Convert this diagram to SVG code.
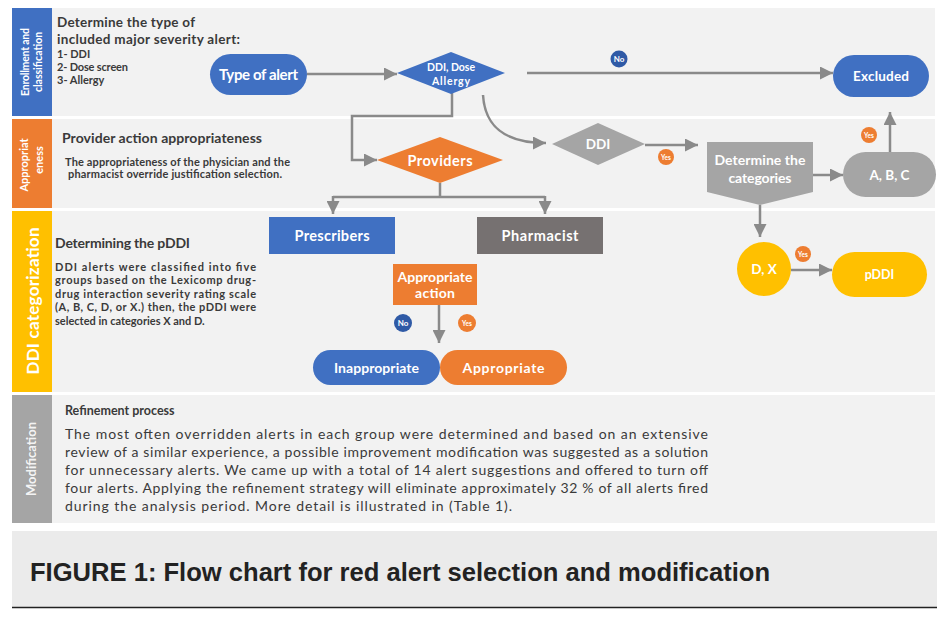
<svg xmlns="http://www.w3.org/2000/svg" width="937" height="626" viewBox="0 0 937 626">
  <defs>
    <marker id="ah" viewBox="0 0 10 10" refX="10" refY="5" markerWidth="13" markerHeight="13" markerUnits="userSpaceOnUse" orient="auto">
      <path d="M0,0 L10,5 L0,10 z" fill="#8a8a8a"/>
    </marker>
    <style>
      .band { fill: #f2f2f2; }
      .conn { fill: none; stroke: #8a8a8a; stroke-width: 2.5; }
      .arr { marker-end: url(#ah); }
      .blue { fill: #4070c2; }
      .orange { fill: #ed7d31; }
      .yellow { fill: #ffc000; }
      .gray { fill: #a5a5a5; }
      .dgray { fill: #767171; }
      .lbl { font-family: Lato, "Liberation Sans", sans-serif; font-weight: bold; fill: #ffffff; text-anchor: middle; }
      .side { font-family: Lato, "Liberation Sans", sans-serif; font-weight: bold; fill: #ffffff; text-anchor: middle; }
      .head { font-family: Lato, "Liberation Sans", sans-serif; font-weight: bold; fill: #3a3a3a; }
      .body { font-family: Lato, "Liberation Sans", sans-serif; font-weight: bold; fill: #3a3a3a; }
      .para { font-family: Lato, "Liberation Sans", sans-serif; fill: #3a3a3a; }
      .tag { font-family: Lato, "Liberation Sans", sans-serif; font-weight: bold; fill: #ffffff; text-anchor: middle; }
    </style>
  </defs>

  <rect width="937" height="626" fill="#ffffff"/>

  <!-- swim lanes -->
  <g id="lane-enrollment">
    <rect class="band" x="52" y="8" width="883" height="108"/>
    <rect class="blue" x="12" y="8" width="40" height="108"/>
    <text class="side" font-size="10.5" transform="translate(29,62) rotate(-90)" textLength="68">Enrollment  and</text>
    <text class="side" font-size="10.5" transform="translate(42,62) rotate(-90)">classification</text>
    <text class="head" x="57" y="27" font-size="13.5" textLength="138">Determine the type of</text>
    <text class="head" x="57" y="44" font-size="13.5" textLength="183">included major severity alert:</text>
    <text class="body" x="57" y="58" font-size="11">1- DDI</text>
    <text class="body" x="57" y="71" font-size="11" textLength="71">2- Dose screen</text>
    <text class="body" x="57" y="84" font-size="11">3- Allergy</text>
  </g>

  <g id="lane-appropriateness">
    <rect class="band" x="52" y="119" width="883" height="89"/>
    <rect class="orange" x="12" y="119" width="40" height="89"/>
    <text class="side" font-size="11" transform="translate(28,165) rotate(-90)">Appropriat</text>
    <text class="side" font-size="11" transform="translate(43,160) rotate(-90)">eness</text>
    <text class="head" x="62" y="143" font-size="14" textLength="200">Provider action appropriateness</text>
    <text class="body" x="65" y="166" font-size="11" textLength="225">The appropriateness  of the physician and the</text>
    <text class="body" x="68" y="178" font-size="11" textLength="214">pharmacist override justification  selection.</text>
  </g>

  <g id="lane-categorization">
    <rect class="band" x="52" y="211" width="883" height="181"/>
    <rect class="yellow" x="12" y="211" width="40" height="181"/>
    <text class="side" font-size="17" transform="translate(39,301) rotate(-90)" textLength="147">DDI categorization</text>
    <text class="head" x="55" y="248" font-size="14" textLength="135">Determining the pDDI</text>
    <text class="body" x="55" y="271" font-size="11" textLength="201">DDI alerts were classified into five</text>
    <text class="body" x="55" y="284" font-size="11" textLength="201">groups based on the Lexicomp drug-</text>
    <text class="body" x="55" y="297.5" font-size="11" textLength="201">drug interaction severity rating scale</text>
    <text class="body" x="55" y="311" font-size="11" textLength="201">(A, B, C, D, or X.) then, the pDDI were</text>
    <text class="body" x="55" y="324.5" font-size="11">selected in categories X and D.</text>
  </g>

  <g id="lane-modification">
    <rect class="band" x="52" y="395" width="883" height="128"/>
    <rect class="gray" x="12" y="395" width="40" height="128"/>
    <text class="side" font-size="13" fill-opacity="0.9" transform="translate(36,459) rotate(-90)">Modification</text>
    <text class="head" x="65" y="415" font-size="12.5">Refinement process</text>
    <text class="para" x="65" y="439" font-size="14" textLength="643">The most often overridden alerts in each group were determined and based on an extensive</text>
    <text class="para" x="65" y="457" font-size="14" textLength="643">review of a similar experience, a possible improvement modification was suggested as a solution</text>
    <text class="para" x="65" y="475" font-size="14" textLength="643">for unnecessary alerts. We came up with a total of 14 alert suggestions and offered to turn off</text>
    <text class="para" x="65" y="493" font-size="14" textLength="643">four alerts. Applying the refinement strategy will eliminate approximately 32 % of all alerts fired</text>
    <text class="para" x="65" y="511" font-size="14" textLength="447">during the analysis period. More detail is illustrated in (Table 1).</text>
  </g>

  <!-- connectors -->
  <g id="connectors">
    <path class="conn arr" d="M307,74 H397"/>
    <path class="conn arr" d="M527,73 H833"/>
    <path class="conn arr" d="M452,93 V116 H352 V160 H377"/>
    <path class="conn arr" d="M483,95 C485,127 505,143 546,143"/>
    <path class="conn arr" d="M645,145 H698"/>
    <path class="conn arr" d="M813,175 H843"/>
    <path class="conn arr" d="M890,152 V112"/>
    <path class="conn arr" d="M760,205 V237"/>
    <path class="conn arr" d="M791,270 H832"/>
    <path class="conn" d="M440,183 V197 M333,197 H545"/>
    <path class="conn arr" d="M333,196 V214"/>
    <path class="conn arr" d="M545,196 V214"/>
    <path class="conn arr" d="M439,305 V343"/>
  </g>

  <!-- nodes -->
  <g id="type-of-alert">
    <rect class="blue" x="210" y="54" width="97" height="41" rx="20.5"/>
    <text class="lbl" x="258.5" y="80" font-size="15" textLength="79">Type of alert</text>
  </g>
  <g id="alert-kind">
    <polygon class="blue" points="397,73 451,52 505,73 451,94"/>
    <text class="lbl" x="451" y="70.5" font-size="10.5" textLength="48">DDI, Dose</text>
    <text class="lbl" x="451" y="85" font-size="10.5" textLength="38">Allergy</text>
  </g>
  <g id="excluded">
    <rect class="blue" x="833" y="55" width="96" height="42" rx="21"/>
    <text class="lbl" x="881" y="81" font-size="13.5" textLength="56">Excluded</text>
  </g>
  <g id="no-excluded">
    <circle cx="619" cy="59" r="8.5" fill="#2f5aa6"/>
    <text class="tag" x="619" y="62" font-size="8">No</text>
  </g>
  <g id="providers">
    <polygon class="orange" points="377,160 440,137 503,160 440,183"/>
    <text class="lbl" x="440" y="166" font-size="14.5" textLength="65">Providers</text>
  </g>
  <g id="ddi">
    <polygon class="gray" points="552,144 598,123 645,144 598,165"/>
    <text class="lbl" x="598" y="149" font-size="13.5">DDI</text>
  </g>
  <g id="yes-ddi">
    <circle cx="666" cy="157" r="8" fill="#ed7d31"/>
    <text class="tag" x="666" y="159.5" font-size="6.5">Yes</text>
  </g>
  <g id="categories">
    <polygon class="gray" points="707,142 813,142 813,192 760,205 707,192"/>
    <text class="lbl" x="760" y="165" font-size="14" textLength="91">Determine the</text>
    <text class="lbl" x="760" y="183" font-size="14" textLength="63">categories</text>
  </g>
  <g id="abc">
    <rect class="gray" x="843" y="152" width="93" height="45" rx="22.5"/>
    <text class="lbl" x="889.5" y="179.5" font-size="13.5">A, B, C</text>
  </g>
  <g id="yes-abc">
    <circle cx="869" cy="135" r="8" fill="#ed7d31"/>
    <text class="tag" x="869" y="137.5" font-size="6.5">Yes</text>
  </g>
  <g id="dx">
    <circle class="yellow" cx="764" cy="269" r="27"/>
    <text class="lbl" x="764" y="273.5" font-size="13.5">D, X</text>
  </g>
  <g id="yes-dx">
    <circle cx="803" cy="254" r="8" fill="#ed7d31"/>
    <text class="tag" x="803" y="256.5" font-size="6.5">Yes</text>
  </g>
  <g id="pddi">
    <rect class="yellow" x="832" y="252" width="95" height="45" rx="22.5"/>
    <text class="lbl" x="879.5" y="279" font-size="12.5">pDDI</text>
  </g>
  <g id="prescribers">
    <rect class="blue" x="269" y="217" width="126" height="37"/>
    <text class="lbl" x="332" y="241" font-size="14.5" textLength="75">Prescribers</text>
  </g>
  <g id="pharmacist">
    <rect class="dgray" x="477" y="217" width="126" height="37"/>
    <text class="lbl" x="540" y="241" font-size="14.5" textLength="77">Pharmacist</text>
  </g>
  <g id="appropriate-action">
    <rect class="orange" x="393" y="264" width="84" height="41"/>
    <text class="lbl" x="435" y="281.5" font-size="14" textLength="75">Appropriate</text>
    <text class="lbl" x="435" y="298" font-size="14" textLength="40">action</text>
  </g>
  <g id="no-action">
    <circle cx="403" cy="323" r="9" fill="#2f5aa6"/>
    <text class="tag" x="403" y="326" font-size="8">No</text>
  </g>
  <g id="yes-action">
    <circle cx="467" cy="323" r="9" fill="#ed7d31"/>
    <text class="tag" x="467" y="325.5" font-size="6.5">Yes</text>
  </g>
  <g id="inappropriate">
    <rect class="blue" x="313" y="350" width="127" height="35" rx="17.5"/>
    <text class="lbl" x="376.5" y="372.5" font-size="14" textLength="85">Inappropriate</text>
  </g>
  <g id="appropriate">
    <rect class="orange" x="440" y="350" width="127" height="35" rx="17.5"/>
    <text class="lbl" x="503.5" y="372.5" font-size="14" textLength="82">Appropriate</text>
  </g>

  <!-- caption -->
  <g id="caption">
    <rect x="12" y="531" width="925" height="76" fill="#ebebeb"/>
    <line x1="12" y1="607.5" x2="937" y2="607.5" stroke="#222222" stroke-width="1.5"/>
    <text x="30" y="581" font-family="'Liberation Sans', Arial, sans-serif" font-weight="bold" font-size="25" fill="#222222" textLength="740" lengthAdjust="spacingAndGlyphs">FIGURE 1: Flow chart for red alert selection and modification</text>
  </g>
</svg>
